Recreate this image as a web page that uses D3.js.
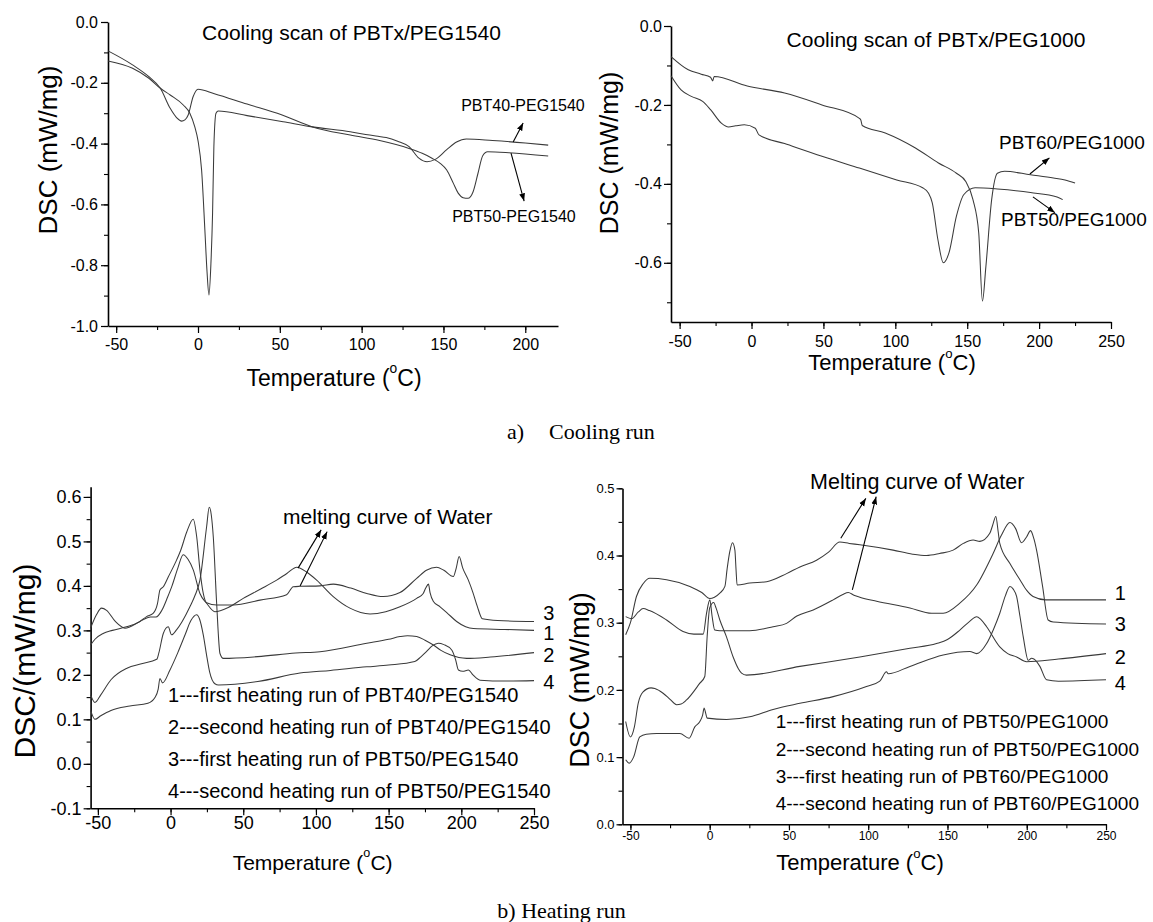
<!DOCTYPE html>
<html><head><meta charset="utf-8">
<script src="https://cdn.jsdelivr.net/npm/d3@7"></script>
<style>
body{margin:0;background:#fff}
text{font-family:"Liberation Sans",Arial,sans-serif;fill:#000}
.cap{font-family:"Liberation Serif","Times New Roman",serif}
</style>
</head><body>
<svg id="c" width="1153" height="922" xmlns="http://www.w3.org/2000/svg"></svg>
<script>
// ---------- DATA ----------
// Panel a-left: cooling scan PBTx/PEG1540
const coolXTicks1 = [-50,0,50,100,150,200];
const coolYTicks1 = [0,-0.2,-0.4,-0.6,-0.8,-1.0];
const cool1540_PBT40 = [[-55,-0.128],[-40,-0.152],[-30,-0.185],[-23,-0.218],[-17,-0.24],[-9,-0.273],[-5,-0.30],[-2,-0.344],[0,-0.39],[2.2,-0.487],[4.2,-0.684],[5.5,-0.82],[6.7,-0.898],[7.9,-0.794],[8.9,-0.63],[9.7,-0.41],[11,-0.30],[12.4,-0.293],[30,-0.308],[52,-0.328],[70,-0.345],[93,-0.361],[105,-0.372],[110,-0.376],[115,-0.38],[122,-0.392],[129,-0.41],[135,-0.448],[140,-0.46],[145,-0.452],[152,-0.42],[158,-0.395],[164,-0.385],[180,-0.39],[200,-0.398],[214,-0.405]];
const cool1540_PBT50 = [[-55,-0.095],[-40,-0.141],[-30,-0.18],[-23,-0.218],[-17,-0.284],[-13,-0.315],[-10,-0.326],[-8,-0.322],[-6,-0.306],[-3,-0.246],[0,-0.221],[10,-0.236],[30,-0.27],[51,-0.305],[70,-0.345],[93,-0.372],[111,-0.39],[129,-0.416],[137,-0.432],[143,-0.448],[148,-0.465],[152,-0.487],[156,-0.53],[159,-0.563],[162,-0.578],[165,-0.58],[168,-0.56],[171,-0.5],[174,-0.44],[177,-0.427],[190,-0.43],[214,-0.441]];

// Panel a-right: cooling scan PBTx/PEG1000
const coolXTicks2 = [-50,0,50,100,150,200,250];
const coolYTicks2 = [0,-0.2,-0.4,-0.6];
const cool1000_PBT60 = [[-56,-0.0775],[-44,-0.111],[-35,-0.122],[-28.5,-0.13],[-27,-0.139],[-26,-0.128],[-3,-0.152],[23,-0.17],[49,-0.2],[75,-0.234],[76,-0.238],[77,-0.252],[93,-0.271],[114,-0.309],[130,-0.347],[142.5,-0.373],[149,-0.394],[154,-0.44],[158,-0.524],[160.6,-0.697],[163,-0.609],[167,-0.44],[171,-0.373],[176,-0.368],[194,-0.377],[210,-0.385],[218,-0.39],[225,-0.398]];
const cool1000_PBT50 = [[-56,-0.126],[-49,-0.162],[-41.5,-0.179],[-34,-0.191],[-28.5,-0.212],[-21,-0.246],[-16,-0.256],[-11,-0.253],[-5,-0.25],[2.6,-0.259],[5.2,-0.276],[23,-0.298],[49,-0.33],[75,-0.36],[101,-0.39],[119,-0.41],[123,-0.423],[125.7,-0.448],[129.6,-0.541],[133.4,-0.6],[137.3,-0.575],[142.5,-0.482],[147.7,-0.427],[155.5,-0.41],[171,-0.413],[194,-0.422],[212.5,-0.433],[216.4,-0.44]];

// Panel b-left: heating runs PBT/PEG1540
const heatXTicks = [-50,0,50,100,150,200,250];
const heatYTicks1 = [-0.1,0,0.1,0.2,0.3,0.4,0.5,0.6];
const heat1540_1 = [[-55,0.305],[-51,0.335],[-47.5,0.35],[-44,0.345],[-38,0.32],[-31.4,0.305],[-21,0.32],[-14,0.33],[-10,0.33],[-6,0.345],[-2,0.375],[1,0.40],[5,0.44],[8.7,0.47],[12,0.46],[15.6,0.436],[20.2,0.383],[24.8,0.361],[30.5,0.342],[40,0.352],[50,0.372],[62,0.393],[73,0.413],[80,0.428],[86.8,0.442],[94,0.43],[100.5,0.413],[111.9,0.376],[123.4,0.35],[137.2,0.337],[148,0.342],[157.8,0.353],[169.3,0.372],[173.8,0.383],[175.5,0.395],[177.4,0.404],[178.5,0.385],[180.8,0.365],[185.4,0.353],[190,0.34],[196.8,0.32],[203,0.308],[208.3,0.304],[230,0.302],[250,0.30]];
const heat1540_2 = [[-55,0.155],[-52,0.138],[-48,0.155],[-41,0.189],[-30,0.215],[-20,0.225],[-9.5,0.235],[-8,0.25],[-5,0.293],[-1.6,0.308],[0.7,0.29],[4.1,0.301],[8,0.32],[13.3,0.353],[17,0.38],[20.2,0.413],[24.8,0.533],[26.6,0.577],[28,0.56],[29.4,0.51],[31.7,0.361],[34,0.248],[36.3,0.237],[60,0.241],[86,0.249],[102.8,0.252],[135,0.271],[150,0.28],[157.8,0.286],[163,0.288],[169.3,0.286],[175,0.278],[180.8,0.267],[186,0.255],[192.3,0.245],[203.7,0.237],[220,0.24],[250,0.25]];
const heat1540_3 = [[-55,0.267],[-52,0.28],[-46.4,0.293],[-40,0.30],[-30.3,0.308],[-22,0.318],[-16.5,0.331],[-12,0.338],[-9,0.36],[-7.3,0.391],[-5,0.398],[-1.6,0.42],[3,0.45],[7,0.48],[11,0.52],[15.6,0.55],[18,0.51],[20.2,0.436],[22.5,0.383],[24.8,0.362],[31.7,0.357],[43.2,0.357],[61.5,0.368],[79.8,0.38],[84.4,0.398],[89,0.399],[102.8,0.4],[112,0.404],[124,0.395],[135,0.383],[146.3,0.376],[157.8,0.385],[169.3,0.417],[176,0.435],[183,0.442],[188,0.435],[194.5,0.421],[196.5,0.44],[198.5,0.466],[201,0.44],[204.7,0.414],[208,0.385],[211,0.354],[214.5,0.326],[225,0.322],[250,0.32]];
const heat1540_4 = [[-55,0.12],[-52,0.10],[-48,0.108],[-41,0.12],[-28,0.13],[-15.6,0.136],[-10.5,0.15],[-8.5,0.168],[-7.3,0.192],[-5.5,0.182],[-0.4,0.211],[5,0.25],[10,0.29],[14,0.322],[17.9,0.335],[20,0.325],[22.5,0.29],[25,0.24],[27,0.205],[30.5,0.18],[33,0.177],[60,0.185],[89,0.204],[110,0.21],[135,0.218],[150,0.222],[168,0.23],[172,0.24],[176,0.252],[180,0.265],[184.2,0.271],[188,0.268],[193.4,0.256],[196,0.235],[198,0.211],[201,0.208],[204.9,0.211],[208,0.2],[212.9,0.188],[230,0.186],[250,0.187]];

// Panel b-right: heating runs PBT/PEG1000
const heatYTicks2 = [0,0.1,0.2,0.3,0.4,0.5];
const heat1000_1 = [[-53,0.282],[-50,0.3],[-46.2,0.339],[-42,0.358],[-37.8,0.366],[-27.2,0.364],[-12.5,0.354],[-5,0.345],[0.1,0.336],[3,0.338],[6.4,0.344],[9.6,0.354],[11,0.38],[12.7,0.406],[14.4,0.419],[15.9,0.408],[16.6,0.38],[17.3,0.356],[25.3,0.359],[35.9,0.361],[48.5,0.373],[56.9,0.383],[67.4,0.393],[75,0.405],[82.1,0.42],[88,0.418],[94.7,0.416],[115.7,0.408],[128,0.402],[136.8,0.4],[145,0.403],[153.6,0.408],[160,0.418],[166.2,0.423],[170.4,0.421],[176.7,0.433],[178.5,0.445],[180.5,0.458],[182,0.435],[183,0.418],[189.4,0.388],[195.7,0.364],[200,0.348],[204,0.339],[212,0.334],[221,0.334],[250,0.334]];
const heat1000_2 = [[-53,0.153],[-50,0.13],[-47.5,0.145],[-45.1,0.18],[-42,0.197],[-37,0.203],[-34.6,0.202],[-29.4,0.195],[-25,0.186],[-20.9,0.178],[-18,0.179],[-14.6,0.185],[-6.2,0.21],[-3.1,0.22],[-1.6,0.279],[0,0.322],[2.5,0.33],[4,0.322],[6.4,0.304],[10.6,0.279],[14.8,0.249],[18,0.232],[20.1,0.225],[23.2,0.222],[56.9,0.235],[94.7,0.249],[126.3,0.262],[143.1,0.269],[150,0.275],[157.8,0.289],[164,0.302],[168.4,0.309],[171,0.305],[174.7,0.294],[183,0.264],[188,0.254],[193.6,0.249],[199.9,0.242],[220,0.246],[250,0.254]];
const heat1000_3 = [[-53,0.309],[-49.3,0.306],[-45,0.316],[-42,0.321],[-38,0.318],[-27.2,0.304],[-16.8,0.287],[-10,0.283],[-4.1,0.283],[-2,0.314],[0.1,0.334],[1.5,0.31],[3.2,0.289],[6.4,0.288],[25.3,0.288],[40,0.294],[48.5,0.299],[55,0.31],[65.3,0.319],[77.9,0.334],[84,0.342],[87.4,0.345],[91,0.341],[94.7,0.338],[105.3,0.332],[126.3,0.322],[140,0.314],[147.3,0.314],[157.8,0.329],[168.4,0.356],[178.8,0.403],[184,0.43],[189.4,0.449],[193,0.44],[196.7,0.419],[200,0.428],[202.4,0.437],[204.5,0.425],[206.2,0.408],[210,0.354],[213.5,0.304],[216.7,0.301],[250,0.298]];
const heat1000_4 = [[-53,0.096],[-50.8,0.091],[-48,0.1],[-44.1,0.13],[-40,0.134],[-33.5,0.135],[-18.8,0.135],[-13,0.128],[-9.4,0.145],[-6.2,0.153],[-4.5,0.162],[-3.5,0.173],[-2.5,0.165],[-1.6,0.158],[10.6,0.156],[25.3,0.16],[40,0.171],[56.9,0.18],[77.9,0.19],[98.9,0.205],[107.3,0.213],[111.5,0.227],[112.6,0.224],[126.3,0.235],[147.3,0.252],[164.1,0.257],[168.4,0.254],[174.7,0.269],[179,0.29],[183,0.314],[186.5,0.34],[189.4,0.354],[191.5,0.35],[193.6,0.339],[195.7,0.31],[197.8,0.279],[201,0.244],[203,0.247],[204.5,0.246],[208.3,0.235],[212.5,0.215],[220,0.213],[250,0.215]];

const legend1540 = ["1---first heating run of PBT40/PEG1540","2---second heating run of PBT40/PEG1540","3---first heating run of PBT50/PEG1540","4---second heating run of PBT50/PEG1540"];
const legend1000 = ["1---first heating run of PBT50/PEG1000","2---second heating run of PBT50/PEG1000","3---first heating run of PBT60/PEG1000","4---second heating run of PBT60/PEG1000"];
const curveNums = ["1","2","3","4"];

// ---------- DRAW ----------
const svg = d3.select("#c");
svg.append("rect").attr("width",1153).attr("height",922).attr("fill","#fff");
const defs = svg.append("defs");
defs.append("marker").attr("id","ah").attr("viewBox","0 0 10 10").attr("refX",10).attr("refY",5)
  .attr("markerWidth",7).attr("markerHeight",7).attr("orient","auto")
  .append("path").attr("d","M0,1.2 L10,5 L0,8.8 z").attr("fill","#000");

function minorVals(domain, step){
  const out=[]; const lo=Math.min(...domain), hi=Math.max(...domain);
  for(let v=Math.ceil(lo/step-1e-9)*step; v<=hi+1e-9; v+=step) out.push(+v.toFixed(4));
  return out;
}

function panel(c){
  const x = d3.scaleLinear().domain(c.xd).range(c.xr);
  const y = d3.scaleLinear().domain(c.yd).range(c.yr);
  const g = svg.append("g");
  const fmtY = d => (Math.abs(d)<1e-9?0:d).toFixed(1);
  // minor ticks
  g.append("g").attr("transform",`translate(0,${c.yr[0]})`)
    .call(d3.axisBottom(x).tickValues(minorVals(c.xd,c.xminor)).tickSize(c.minor).tickFormat("").tickSizeOuter(0))
    .call(s=>s.select(".domain").remove()).selectAll("line").attr("stroke-width",1.1);
  g.append("g").attr("transform",`translate(${c.xr[0]},0)`)
    .call(d3.axisLeft(y).tickValues(minorVals(c.yd,c.yminor)).tickSize(c.minor).tickFormat("").tickSizeOuter(0))
    .call(s=>s.select(".domain").remove()).selectAll("line").attr("stroke-width",1.1);
  // major
  const xa = g.append("g").attr("transform",`translate(0,${c.yr[0]})`)
    .call(d3.axisBottom(x).tickValues(c.xt).tickSize(c.major).tickPadding(c.xpad).tickFormat(d=>String(d)).tickSizeOuter(0));
  xa.select(".domain").attr("stroke-width",1.6);
  xa.selectAll("line").attr("stroke-width",1.2);
  xa.selectAll("text").attr("font-size",c.tfs).attr("font-family","Liberation Sans, Arial, sans-serif");
  const ya = g.append("g").attr("transform",`translate(${c.xr[0]},0)`)
    .call(d3.axisLeft(y).tickValues(c.yt).tickSize(c.major).tickPadding(c.ypad).tickFormat(fmtY).tickSizeOuter(0));
  ya.select(".domain").attr("stroke-width",1.6);
  ya.selectAll("line").attr("stroke-width",1.2);
  ya.selectAll("text").attr("font-size",c.yfs||c.tfs).attr("font-family","Liberation Sans, Arial, sans-serif");
  // curves
  const line = d3.line().x(d=>x(d[0])).y(d=>y(d[1])).curve(d3.curveMonotoneX);
  c.series.forEach(s=>{
    g.append("path").attr("d",line(s)).attr("fill","none").attr("stroke","#3a3a3a").attr("stroke-width",1.05);
  });
  // arrows (data coords)
  (c.arrows||[]).forEach(a=>{
    g.append("line").attr("x1",x(a[0])).attr("y1",y(a[1])).attr("x2",x(a[2])).attr("y2",y(a[3]))
      .attr("stroke","#000").attr("stroke-width",1.1).attr("marker-end","url(#ah)");
  });
  // annotations (data coords)
  (c.notes||[]).forEach(n=>{
    g.append("text").attr("x",x(n.t)).attr("y",y(n.v)).attr("dominant-baseline","central")
      .attr("text-anchor",n.anchor||"start").attr("font-size",n.fs).text(n.text);
  });
  // axis labels
  const xl = g.append("text").attr("x",c.xlab[0]).attr("y",c.xlab[1]).attr("text-anchor","middle")
    .attr("dominant-baseline","central").attr("font-size",c.xlab[2]);
  xl.append("tspan").text("Temperature (");
  xl.append("tspan").attr("font-size",c.xlab[2]*0.6).attr("dy",-c.xlab[2]*0.42).text("o");
  xl.append("tspan").attr("dy",c.xlab[2]*0.42).text("C)");
  g.append("text").attr("transform",`translate(${c.ylab[0]},${c.ylab[1]}) rotate(-90)`)
    .attr("text-anchor","middle").attr("dominant-baseline","central").attr("font-size",c.ylab[2]).text(c.ylab[3]);
  if(c.title) g.append("text").attr("x",c.title[0]).attr("y",c.title[1]).attr("text-anchor","middle")
    .attr("dominant-baseline","central").attr("font-size",c.title[2]).text(c.title[3]);
  return {x,y,g};
}

// Panel a-left
panel({xd:[-55,220], xr:[108,558], yd:[-1.0,0], yr:[326,22],
  xt:coolXTicks1, yt:coolYTicks1, xminor:25, yminor:0.1, major:7, minor:4, xpad:6, ypad:3, tfs:16,
  series:[cool1540_PBT40, cool1540_PBT50],
  arrows:[[192.6,-0.395,198.7,-0.332],[191.3,-0.431,199.3,-0.589]],
  notes:[{t:160.8,v:-0.276,text:"PBT40-PEG1540",fs:16},{t:155.3,v:-0.641,text:"PBT50-PEG1540",fs:16}],
  xlab:[334,378,23], ylab:[48,150,26,"DSC (mW/mg)"], title:[351.5,32,21,"Cooling scan of PBTx/PEG1540"]});

// Panel a-right
panel({xd:[-56,250], xr:[671,1111], yd:[-0.75,0], yr:[322,26],
  xt:coolXTicks2, yt:coolYTicks2, xminor:25, yminor:0.1, major:7, minor:4, xpad:7, ypad:2, tfs:16,
  series:[cool1000_PBT60, cool1000_PBT50],
  arrows:[[193.6,-0.375,207.2,-0.334],[195.7,-0.433,211,-0.473]],
  notes:[{t:172.1,v:-0.294,text:"PBT60/PEG1000",fs:19},{t:173.5,v:-0.491,text:"PBT50/PEG1000",fs:19}],
  xlab:[892,362,22], ylab:[609,153,25,"DSC (mW/mg)"], title:[936,39,21,"Cooling scan of PBTx/PEG1000"]});

// Panel b-left
panel({xd:[-55,250], xr:[90.6,534], yd:[-0.1,0.623], yr:[808.3,486.7],
  xt:heatXTicks, yt:heatYTicks1, xminor:25, yminor:0.05, major:7, minor:4, xpad:1, ypad:2, tfs:18,
  series:[heat1540_1, heat1540_2, heat1540_3, heat1540_4],
  arrows:[[87.7,0.44,103.6,0.526],[89.1,0.40,107.7,0.522]],
  notes:[{t:77.4,v:0.557,text:"melting curve of Water",fs:21},
    {t:256.4,v:0.294,text:curveNums[0],fs:20},{t:256.4,v:0.245,text:curveNums[1],fs:20},
    {t:256.4,v:0.34,text:curveNums[2],fs:20},{t:256.4,v:0.185,text:curveNums[3],fs:20},
    {t:-1.7,v:0.155,text:legend1540[0],fs:20},{t:-1.7,v:0.083,text:legend1540[1],fs:20},
    {t:-1.7,v:0.011,text:legend1540[2],fs:20},{t:-1.7,v:-0.061,text:legend1540[3],fs:20}],
  xlab:[312.6,862,21], ylab:[24,661,30,"DSC/(mW/mg)"]});

// Panel b-right
panel({xd:[-55,250], xr:[622.5,1106], yd:[0,0.5], yr:[824.3,488.3],
  xt:heatXTicks, yt:heatYTicks2, xminor:25, yminor:0.05, major:6, minor:4, xpad:1, ypad:2, tfs:12, yfs:13,
  series:[heat1000_1, heat1000_2, heat1000_3, heat1000_4],
  arrows:[[82.7,0.4256,98.5,0.485],[90,0.349,105,0.4875]],
  notes:[{t:63.3,v:0.51,text:"Melting curve of Water",fs:21.5},
    {t:255.5,v:0.344,text:curveNums[0],fs:20},{t:255.5,v:0.249,text:curveNums[1],fs:20},
    {t:255.5,v:0.298,text:curveNums[2],fs:20},{t:255.5,v:0.21,text:curveNums[3],fs:20},
    {t:41.6,v:0.153,text:legend1000[0],fs:19},{t:41.6,v:0.111,text:legend1000[1],fs:19},
    {t:41.6,v:0.071,text:legend1000[2],fs:19},{t:41.6,v:0.031,text:legend1000[3],fs:19}],
  xlab:[860,862,22], ylab:[580,680,27,"DSC (mW/mg)"]});

// captions
svg.append("text").attr("class","cap").attr("x",507).attr("y",431).attr("dominant-baseline","central").attr("font-size",22).text("a)");
svg.append("text").attr("class","cap").attr("x",549).attr("y",431).attr("dominant-baseline","central").attr("font-size",22).text("Cooling run");
svg.append("text").attr("class","cap").attr("x",561.5).attr("y",910).attr("text-anchor","middle").attr("dominant-baseline","central").attr("font-size",22).text("b) Heating run");
</script>
</body></html>
